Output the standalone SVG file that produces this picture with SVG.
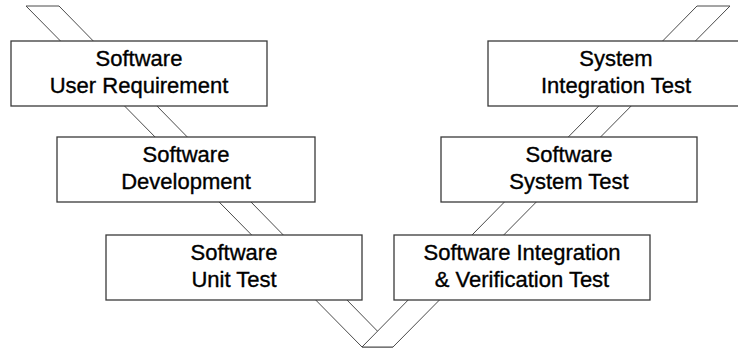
<svg xmlns="http://www.w3.org/2000/svg" width="738" height="349" viewBox="0 0 738 349">
  <style>
    .band { fill: #ffffff; stroke: #4a4a4a; stroke-width: 1; }
    .box { fill: #ffffff; stroke: #3a3a3a; stroke-width: 1.3; }
    .lbl { font-family: "Liberation Sans", Arial, sans-serif; font-size: 22px; fill: #000000; stroke: #000000; stroke-width: 0.35; text-anchor: middle; }
  </style>
  <rect x="0" y="0" width="738" height="349" fill="#ffffff"/>
  <g id="connectors">
    <polygon class="band" points="26,6 59,6 393,347 362,347"/>
    <polygon class="band" points="697,6 730,6 393,347 362,347"/>
  </g>
  <g id="node-software-user-requirement">
    <rect class="box" x="11" y="41" width="256" height="65"/>
    <text class="lbl" x="139" y="66">Software</text>
    <text class="lbl" x="139" y="93">User Requirement</text>
  </g>
  <g id="node-software-development">
    <rect class="box" x="57" y="137" width="258" height="65"/>
    <text class="lbl" x="186" y="162">Software</text>
    <text class="lbl" x="186" y="189">Development</text>
  </g>
  <g id="node-software-unit-test">
    <rect class="box" x="106" y="235" width="256" height="65"/>
    <text class="lbl" x="234" y="260">Software</text>
    <text class="lbl" x="234" y="287">Unit Test</text>
  </g>
  <g id="node-system-integration-test">
    <rect class="box" x="488" y="41" width="256" height="65"/>
    <text class="lbl" x="616" y="66">System</text>
    <text class="lbl" x="616" y="93">Integration Test</text>
  </g>
  <g id="node-software-system-test">
    <rect class="box" x="441" y="137" width="256" height="65"/>
    <text class="lbl" x="569" y="162">Software</text>
    <text class="lbl" x="569" y="189">System Test</text>
  </g>
  <g id="node-software-integration-verification-test">
    <rect class="box" x="394" y="235" width="256" height="65"/>
    <text class="lbl" x="522" y="260">Software Integration</text>
    <text class="lbl" x="522" y="287">&amp; Verification Test</text>
  </g>
</svg>
